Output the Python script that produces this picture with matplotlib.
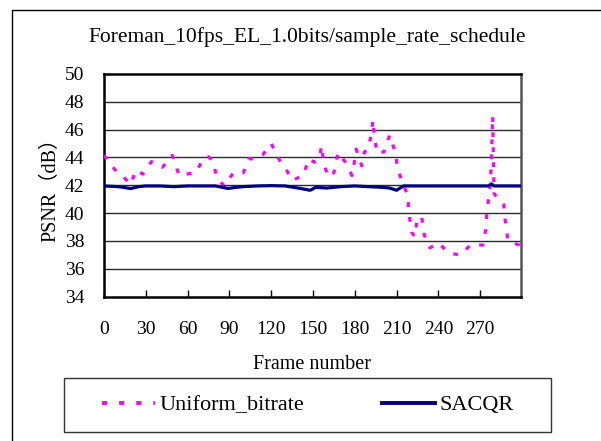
import numpy as np
import matplotlib
matplotlib.use("Agg")
import matplotlib.pyplot as plt
from matplotlib.patches import Rectangle

plt.rcParams['font.family'] = ['Liberation Serif', 'Noto Sans CJK SC', 'DejaVu Sans']

# Uniform_bitrate PSNR (frame, dB)
uni_frames = [0, 2, 8, 14, 19, 23, 28, 34, 42, 49, 54, 59, 66, 71, 75, 78, 81, 86,
              93, 100, 104, 108, 114, 120, 126, 131, 135, 143, 147, 151, 155, 156,
              158, 161, 165, 168, 173, 178, 179, 181, 185, 187, 189, 192, 193, 194,
              196, 201, 205, 209, 211, 215, 218, 219, 221, 223, 225, 228, 230, 234,
              240, 248, 256, 263, 272, 274, 275, 277, 278, 279, 280, 283, 287, 288,
              290, 298, 299]
uni_psnr = [44.15, 43.9, 43.1, 42.6, 42.05, 43.1, 42.8, 43.7, 43.3, 44.15, 42.7, 42.8,
            42.9, 43.9, 44.05, 43.75, 42.6, 41.95, 42.9, 42.9, 43.9, 43.9, 44.2, 45.0,
            43.8, 43.1, 42.35, 42.7, 43.9, 43.65, 44.0, 44.85, 43.5, 42.6, 42.9, 44.35,
            43.7, 42.7, 43.2, 44.6, 43.4, 44.4, 44.5, 45.65, 46.7, 45.6, 44.3, 44.4,
            45.6, 44.4, 43.1, 42.0, 41.3, 39.9, 38.6, 38.3, 39.6, 39.75, 38.4, 37.5,
            37.85, 37.1, 37.0, 37.7, 37.7, 38.8, 40.3, 41.6, 43.5, 47.0, 41.4, 41.0,
            40.6, 39.5, 38.0, 37.7, 37.6]

# SACQR PSNR (frame, dB)
sac_frames = [0, 10, 14, 19, 25, 30, 40, 50, 60, 70, 80, 89, 95, 100, 110, 120, 130,
              141, 148, 152, 160, 170, 180, 190, 200, 205, 210, 215, 230, 250, 270,
              276, 278, 280, 285, 299]
sac_psnr = [41.95, 41.9, 41.85, 41.76, 41.9, 41.95, 41.95, 41.9, 41.95, 41.95, 41.95,
            41.77, 41.85, 41.9, 41.95, 41.97, 41.95, 41.77, 41.64, 41.85, 41.8, 41.9,
            41.95, 41.9, 41.85, 41.8, 41.64, 41.95, 41.95, 41.95, 41.95, 41.95, 42.1,
            41.95, 41.95, 41.95]

xticks = [0, 30, 60, 90, 120, 150, 180, 210, 240, 270]
yticks = [34, 36, 38, 40, 42, 44, 46, 48, 50]

W, H = 601, 441
fig = plt.figure(figsize=(W / 100, H / 100), dpi=100)

# outer chart frame (left + top edges visible)
fig.add_artist(Rectangle((12 / W, -0.5), 2.0, 0.5 + (1 - 9.5 / H), transform=fig.transFigure,
                         fill=False, ec='black', lw=1.0))

ax = fig.add_axes([104 / W, 1 - 296.5 / H, (520.5 - 104) / W, (296.5 - 74) / H])

for yv in yticks[1:-1]:
    ax.axhline(yv, color='#2a2a2a', lw=1.0, zorder=1)

l_uni, = ax.plot(uni_frames, uni_psnr, color='#FF00FF', lw=2.3, solid_capstyle='butt',
                 dash_capstyle='butt', label='Uniform_bitrate', zorder=3)
l_uni.set_dashes((1.5, 3.2))
l_sac, = ax.plot(sac_frames, sac_psnr, color='#000080', lw=2.3, label='SACQR', zorder=4)

ax.set_xlim(0, 299)
ax.set_ylim(34, 50)
ax.set_xticks(xticks)
ax.set_yticks(yticks)
ax.tick_params(axis='x', direction='in', length=5, width=1, pad=18, labelsize=14)
ax.tick_params(axis='y', length=0, pad=14, labelsize=14)
for s in ['left', 'top', 'bottom']:
    ax.spines[s].set_linewidth(1.8)
    ax.spines[s].set_color('black')
ax.spines['right'].set_linewidth(1.8)
ax.spines['right'].set_color('#555555')

ax.set_xlabel('Frame number', fontsize=14.5, labelpad=12)
ax.set_ylabel('PSNR（dB）', fontsize=14.5, labelpad=3)

fig.text(307 / W, 1 - 37 / H, 'Foreman_10fps_EL_1.0bits/sample_rate_schedule',
         ha='center', va='center', fontsize=15.5)

# legend frame and entries
fig.add_artist(Rectangle((64 / W, 1 - 432 / H), (551 - 64) / W, (432 - 378) / H,
                         transform=fig.transFigure, fill=False, ec='#333333', lw=1.0))
h_uni = plt.Line2D([], [], color='#FF00FF', lw=2.8, dash_capstyle='butt')
h_uni.set_dashes((1.3, 3.1))
h_sac = plt.Line2D([], [], color='#000080', lw=2.8)
fig.legend([h_uni, h_sac], ['Uniform_bitrate', 'SACQR'], ncol=2, mode='expand',
           loc='center', bbox_to_anchor=(102 / W, 1 - 432 / H, (514 - 102) / W, 54 / H),
           frameon=False, fontsize=16, handlelength=2.4, handletextpad=0.2,
           borderpad=0, borderaxespad=0)

fig.savefig('out.png', dpi=100)
